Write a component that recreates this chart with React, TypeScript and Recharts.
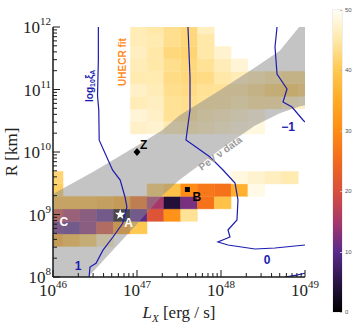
import React from "react"
import { ComposedChart, XAxis, YAxis, Area, Line, ReferenceArea, ReferenceDot } from "recharts"

// heat map: 0.2 dex cells, first cell edges at log L = 45.92 and log R = 8.49
const CELL = 0.2
const X_EDGE0 = 45.92
const Y_EDGE0 = 8.49

const _ = null
// one list per row of cells, bottom row first, columns left to right
const heatRows: (number | null)[][] = [
  [35, 38, 41, 46],
  [11, 10, 13, 20, 33, 40],
  [19, 15, 13, 10, 1, 10, 21, 31, 44],
  [38, 38, 38, 37, 35, 26, 15, 4, 12, 26, 39],
  [41, _, _, _, _, _, 41, 39, 30, 27, 26, 36, 49],
  [42, _, _, _, _, _, _, _, _, _, _, 48.5, 47.5, 46.5, 45.5],
  [],
  [],
  [],
  [_, _, _, _, _, 47, 47.5, 45.5, 45, 46, 47, 48, 48.5],
  [_, _, _, _, _, 48, 47, 44, 43.5, 45, 46, 47, 48],
  [_, _, _, _, _, 46, 46.5, 44, 43.5, 44, 44, 45, 44, 44, 46, 47],
  [_, _, _, _, _, 47, 46, 43.5, 43, 44, 44, 44, 43, 41, 40, 41],
  [_, _, _, _, _, 45.5, 45.5, 43, 42.5, 43, 45, 46, 45, 44, 43, 43],
  [_, _, _, _, _, 46, 45, 43.5, 42.5, 44, 46, 48],
  [_, _, _, _, _, 46.5, 45, 42.5, 42, 45, 47.5],
  [_, _, _, _, _, 46, 45.5, 43.5, 42.5, 45],
  [_, _, _, _, _, 46, 45, 43.5, 42.5, 46.5],
]

// PeV neutrino band (log L, lower / upper log R)
const bandX = [46, 46.42, 46.5, 47.0, 47.3, 47.5, 47.7, 48.0, 48.4, 48.7, 48.93, 49]
const bandLow = [8, 8, 8.12, 8.85, 9.3, 9.55, 9.75, 10.05, 10.42, 10.62, 10.73, 10.75]
const bandHigh = [9.33, 9.64, 9.7, 10.1, 10.35, 10.58, 10.75, 11.0, 11.35, 11.62, 12, 12]

// log10 xi_A contours
const contourOne = [
  [46.54, 12.0], [46.54, 11.47], [46.53, 10.9], [46.545, 10.67], [46.55, 10.19], [46.71, 9.71],
  [46.8, 9.55], [46.857, 9.28], [46.88, 9.12], [46.83, 8.86], [46.714, 8.64], [46.595, 8.43],
  [46.512, 8.22], [46.44, 8.16], [46.43, 8.0],
]
const contourZero = [
  [47.607, 12.0], [47.631, 11.2], [47.631, 10.672], [47.583, 10.192], [47.702, 10.08], [47.869, 9.92],
  [48.024, 9.712], [48.167, 9.504], [48.202, 9.232], [48.19, 8.912], [48.083, 8.752], [48.107, 8.64],
  [47.964, 8.56], [48.083, 8.512], [48.405, 8.448], [48.643, 8.464], [49.0, 8.512],
]
const contourMinusOne = [
  [48.667, 12.0], [48.643, 11.68], [48.667, 11.248], [48.786, 11.008], [48.738, 10.8],
  [48.845, 10.72], [48.976, 10.512], [49.0, 10.48],
]
const contourCorner = [[48.76, 8.0], [48.9, 8.03], [49.0, 8.06]]

const pointZ = { x: 47.0, y: 10.0 }
const pointA = { x: 46.8, y: 9.0 }
const pointB = { x: 47.6, y: 9.4 }

const cbarValues = [0, 10, 20, 30, 40, 50]

const CMAP_STOPS = [0, 5, 10, 15, 20, 25, 30, 35, 40, 45, 50]
const CMAP_COLORS = ["#000000", "#2a1446", "#5a2a8c", "#a8386a", "#d8503c", "#f26a1c", "#ff8c14", "#ffaa26", "#ffc850", "#ffe8a8", "#fffdf5"]

const BLUE = "#1c1cb0"
const AXIS = "#1a1a1a"
const SERIF = "Liberation Serif, Times New Roman, serif"
const SANS = "Liberation Sans, Arial, sans-serif"

function hexToRgb(h: string) {
  return [1, 3, 5].map((i) => parseInt(h.slice(i, i + 2), 16))
}

function colorFor(v: number) {
  let i = 0
  while (i < CMAP_STOPS.length - 2 && v > CMAP_STOPS[i + 1]) i++
  const t = Math.max(0, Math.min(1, (v - CMAP_STOPS[i]) / (CMAP_STOPS[i + 1] - CMAP_STOPS[i])))
  const a = hexToRgb(CMAP_COLORS[i])
  const b = hexToRgb(CMAP_COLORS[i + 1])
  const c = a.map((x, k) => Math.round(x + (b[k] - x) * t))
  return `rgb(${c[0]},${c[1]},${c[2]})`
}

function logTicks(a: number, b: number) {
  const t: number[] = []
  for (let d = a; d < b; d++) for (let k = 1; k < 10; k++) t.push(d + Math.log10(k))
  t.push(b)
  return t
}

const xTicks = logTicks(46, 49)
const yTicks = logTicks(8, 12)
const isMajor = (v: number) => Math.abs(v - Math.round(v)) < 1e-6

const toPts = (arr: number[][]) => arr.map(([x, y]) => ({ x, y }))
const bandData = bandX.map((x, i) => ({ x, range: [bandLow[i], bandHigh[i]] }))

const cells = heatRows.flatMap((row, r) =>
  row.map((v, c) => (v == null ? null : { c, r, v })).filter(Boolean)
) as { c: number; r: number; v: number }[]

function BottomTick({ x, y, payload }: any) {
  const v = payload.value
  const major = isMajor(v)
  return (
    <g>
      <line x1={x} x2={x} y1={y} y2={y - (major ? 7 : 4)} stroke={AXIS} />
      {major && (
        <text x={x} y={y + 19} textAnchor="middle" fontFamily={SERIF} fontSize={17} fill="#222">
          10<tspan dy={-8} fontSize={11}>{Math.round(v)}</tspan>
        </text>
      )}
    </g>
  )
}

function TopTick({ x, y, payload }: any) {
  const major = isMajor(payload.value)
  return <line x1={x} x2={x} y1={y} y2={y + (major ? 7 : 4)} stroke={AXIS} />
}

function LeftTick({ x, y, payload }: any) {
  const v = payload.value
  const major = isMajor(v)
  return (
    <g>
      <line x1={x} x2={x + (major ? 7 : 4)} y1={y} y2={y} stroke={AXIS} />
      {major && (
        <text x={x - 2} y={y + 6} textAnchor="end" fontFamily={SERIF} fontSize={17} fill="#222">
          10<tspan dy={-8} fontSize={11}>{Math.round(v)}</tspan>
        </text>
      )}
    </g>
  )
}

function RightTick({ x, y, payload }: any) {
  const major = isMajor(payload.value)
  return <line x1={x} x2={x - (major ? 7 : 4)} y1={y} y2={y} stroke={AXIS} />
}

const textAt = (content: React.ReactNode, style: any, rotate = 0) => (p: any) => (
  <text
    x={p.cx}
    y={p.cy}
    textAnchor="middle"
    dominantBaseline="central"
    transform={rotate ? `rotate(${rotate} ${p.cx} ${p.cy})` : undefined}
    {...style}
  >
    {content}
  </text>
)

const pointLabel = (t: string, fill: string, dx: number, dy: number) => (p: any) => (
  <text x={p.cx + dx} y={p.cy + dy} fill={fill} fontFamily={SANS} fontWeight="bold" fontSize={12}>
    {t}
  </text>
)

function Star({ cx, cy }: any) {
  const pts: string[] = []
  for (let i = 0; i < 10; i++) {
    const rad = i % 2 === 0 ? 5.5 : 2.3
    const a = -Math.PI / 2 + (i * Math.PI) / 5
    pts.push(`${cx + rad * Math.cos(a)},${cy + rad * Math.sin(a)}`)
  }
  return <polygon points={pts.join(" ")} fill="#fff" />
}

function Diamond({ cx, cy }: any) {
  return <polygon points={`${cx},${cy - 4} ${cx + 3.5},${cy} ${cx},${cy + 4} ${cx - 3.5},${cy}`} fill="#000" />
}

function Square({ cx, cy }: any) {
  return <rect x={cx - 2.5} y={cy - 2.5} width={5} height={5} fill="#000" />
}

function ColorBar() {
  const grad = CMAP_STOPS.map((s, i) => `${CMAP_COLORS[i]} ${(s / 50) * 100}%`).join(", ")
  const top = 10
  const h = 302
  return (
    <>
      <div
        style={{
          position: "absolute", left: 333, top, width: 9, height: h,
          background: `linear-gradient(to top, ${grad})`, boxShadow: "0 0 0 0.5px #ddd",
        }}
      />
      {cbarValues.map((v) => (
        <React.Fragment key={v}>
          <div style={{ position: "absolute", left: 340, top: top + h - (v / 50) * h, width: 2, height: 1, background: "#bbb" }} />
          <div
            style={{
              position: "absolute", left: 345, top: top + h - (v / 50) * h - 4, fontSize: 6,
              fontFamily: SANS, color: "#555", lineHeight: "8px",
            }}
          >
            {v}
          </div>
        </React.Fragment>
      ))}
    </>
  )
}

export default function App() {
  return (
    <div style={{ position: "absolute", left: 0, top: 0, width: 357, height: 330, background: "#fff" }}>
      <ComposedChart width={357} height={330} margin={{ top: 27, right: 52, bottom: 23, left: 8 }}>
        <XAxis
          dataKey="x" type="number" domain={[46, 49]} allowDataOverflow ticks={xTicks} interval={0}
          tickSize={0} tickMargin={0} tickLine={false} height={30}
          axisLine={{ stroke: AXIS, strokeWidth: 1.5 }}
          tick={(p: any) => <BottomTick {...p} />}
          label={{
            content: ({ viewBox }: any) => (
              <text x={viewBox.x + viewBox.width / 2} y={viewBox.y + 41} textAnchor="middle" fontFamily={SERIF} fontSize={17} fill="#222">
                <tspan fontStyle="italic">L</tspan>
                <tspan fontStyle="italic" fontSize={11} dy={4}>X</tspan>
                <tspan dy={-4}> [erg / s]</tspan>
              </text>
            ),
          }}
        />
        <XAxis
          xAxisId="top" orientation="top" type="number" domain={[46, 49]} allowDataOverflow ticks={xTicks}
          interval={0} tickSize={0} tickMargin={0} tickLine={false} height={0}
          axisLine={{ stroke: AXIS, strokeWidth: 1.5 }}
          tick={(p: any) => <TopTick {...p} />}
        />
        <YAxis
          type="number" domain={[8, 12]} allowDataOverflow ticks={yTicks} interval={0}
          tickSize={0} tickMargin={0} tickLine={false} width={45}
          axisLine={{ stroke: AXIS, strokeWidth: 1.5 }}
          tick={(p: any) => <LeftTick {...p} />}
          label={{
            content: ({ viewBox }: any) => {
              const cx = viewBox.x + 9
              const cy = viewBox.y + viewBox.height / 2
              return (
                <text x={cx} y={cy} textAnchor="middle" transform={`rotate(-90 ${cx} ${cy})`} fontFamily={SERIF} fontSize={17} fill="#222">
                  R [km]
                </text>
              )
            },
          }}
        />
        <YAxis
          yAxisId="right" orientation="right" type="number" domain={[8, 12]} allowDataOverflow ticks={yTicks}
          interval={0} tickSize={0} tickMargin={0} tickLine={false} width={0}
          axisLine={{ stroke: AXIS, strokeWidth: 1.5 }}
          tick={(p: any) => <RightTick {...p} />}
        />

        {cells.map(({ c, r, v }) => (
          <ReferenceArea
            key={`${c}-${r}`}
            x1={X_EDGE0 + c * CELL}
            x2={X_EDGE0 + (c + 1) * CELL}
            y1={Y_EDGE0 + r * CELL}
            y2={Y_EDGE0 + (r + 1) * CELL}
            ifOverflow="hidden"
            fill={colorFor(v)}
            fillOpacity={1}
            stroke={colorFor(v)}
            strokeWidth={0.4}
          />
        ))}

        <Area data={bandData} dataKey="range" type="linear" fill="#8a8a8a" fillOpacity={0.5} stroke="none" isAnimationActive={false} activeDot={false} />

        <Line data={toPts(contourOne)} dataKey="y" type="linear" stroke={BLUE} strokeWidth={1.2} dot={false} activeDot={false} isAnimationActive={false} />
        <Line data={toPts(contourZero)} dataKey="y" type="linear" stroke={BLUE} strokeWidth={1.2} dot={false} activeDot={false} isAnimationActive={false} />
        <Line data={toPts(contourMinusOne)} dataKey="y" type="linear" stroke={BLUE} strokeWidth={1.2} dot={false} activeDot={false} isAnimationActive={false} />
        <Line data={toPts(contourCorner)} dataKey="y" type="linear" stroke={BLUE} strokeWidth={1.2} dot={false} activeDot={false} isAnimationActive={false} />

        <ReferenceDot x={46.43} y={11.06} r={0} shape={textAt(
          <>log<tspan dy={3} fontSize={7}>10</tspan><tspan dy={-3}>ξ</tspan><tspan dy={3} fontSize={7}>A</tspan></>,
          { fill: BLUE, fontFamily: SANS, fontWeight: "bold", fontSize: 10 }, -90)} />
        <ReferenceDot x={46.83} y={11.44} r={0} shape={textAt("UHECR fit", { fill: "#ff8c1e", fontFamily: SANS, fontWeight: "bold", fontSize: 10 }, -90)} />
        <ReferenceDot x={47.99} y={9.98} r={0} shape={textAt("PeV ν data", { fill: "#9a9a9a", fontFamily: SANS, fontWeight: "bold", fontSize: 10 }, -36)} />
        <ReferenceDot x={48.8} y={10.4} r={0} shape={textAt("−1", { fill: BLUE, fontFamily: SANS, fontWeight: "bold", fontSize: 12 })} />
        <ReferenceDot x={48.55} y={8.27} r={0} shape={textAt("0", { fill: BLUE, fontFamily: SANS, fontWeight: "bold", fontSize: 12 })} />
        <ReferenceDot x={46.3} y={8.18} r={0} shape={textAt("1", { fill: BLUE, fontFamily: SANS, fontWeight: "bold", fontSize: 12 })} />

        <ReferenceDot x={pointZ.x} y={pointZ.y} r={0} shape={(p: any) => <Diamond {...p} />} />
        <ReferenceDot x={pointZ.x} y={pointZ.y} r={0} shape={pointLabel("Z", "#000", 3, -3)} />
        <ReferenceDot x={pointA.x} y={pointA.y} r={0} shape={(p: any) => <Star {...p} />} />
        <ReferenceDot x={pointA.x} y={pointA.y} r={0} shape={pointLabel("A", "#fff", 4, 12)} />
        <ReferenceDot x={pointB.x} y={pointB.y} r={0} shape={(p: any) => <Square {...p} />} />
        <ReferenceDot x={pointB.x} y={pointB.y} r={0} shape={pointLabel("B", "#000", 5, 11)} />
        <ReferenceDot x={46.13} y={8.88} r={0} shape={textAt("C", { fill: "#fff", fontFamily: SANS, fontWeight: "bold", fontSize: 12 })} />
      </ComposedChart>
      <ColorBar />
    </div>
  )
}
